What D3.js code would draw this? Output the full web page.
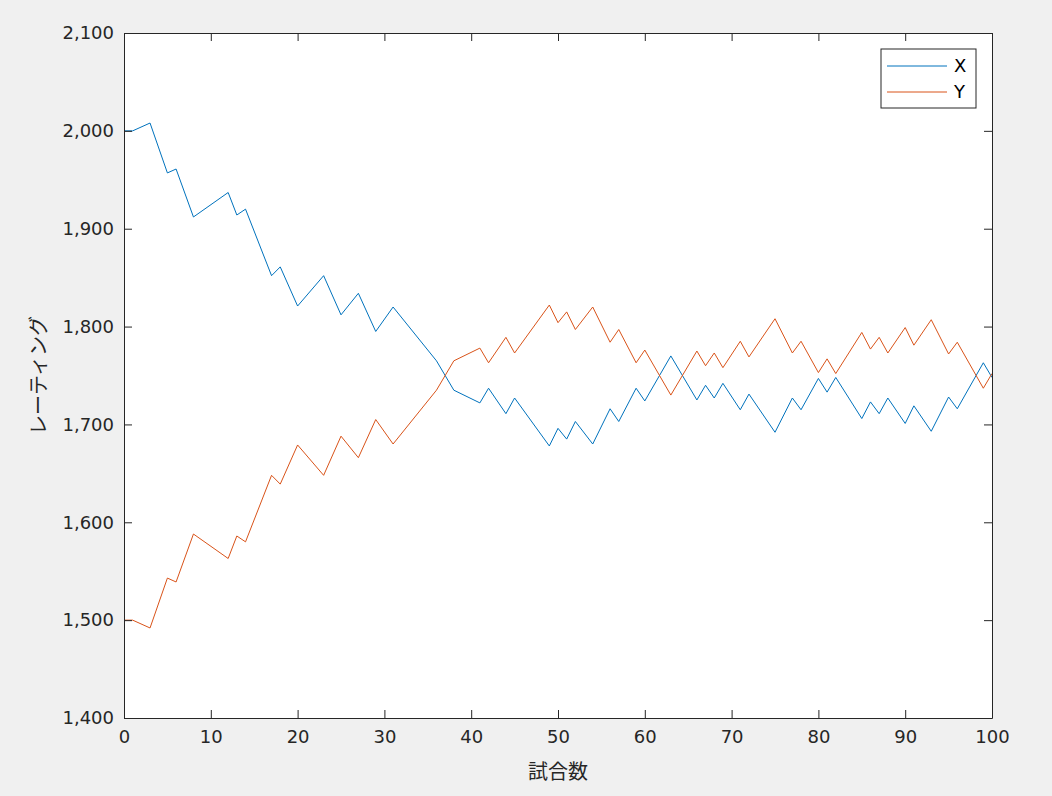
<!DOCTYPE html>
<html><head><meta charset="utf-8">
<script src="https://cdn.jsdelivr.net/npm/d3@7"></script>
<style>body{margin:0;background:#f0f0f0;font-family:"Noto Sans CJK JP","DejaVu Sans",sans-serif;}</style>
</head><body><svg id="c" width="1052" height="796"></svg>
<script>
// turning points of each rating curve (game number, rating)
var games = [0,1,3,5,6,8,12,13,14,17,18,20,23,25,27,29,31,36,38,41,42,44,45,49,50,51,52,54,56,57,59,60,63,66,67,68,69,71,72,75,77,78,80,81,82,85,86,87,88,90,91,93,95,96,99,100];
var ratingX = [2000,2000,2008,1957,1961,1912,1937,1914,1920,1852,1861,1821,1852,1812,1834,1795,1820,1765,1735,1722,1737,1711,1727,1678,1696,1685,1703,1680,1716,1703,1737,1724,1770,1725,1740,1727,1742,1715,1731,1692,1727,1715,1747,1733,1748,1706,1723,1711,1727,1701,1719,1693,1728,1716,1763,1748];
var ratingY = [1500,1500,1492,1543,1539,1588,1563,1586,1580,1648,1639,1679,1648,1688,1666,1705,1680,1735,1765,1778,1763,1789,1773,1822,1804,1815,1797,1820,1784,1797,1763,1776,1730,1775,1760,1773,1758,1785,1769,1808,1773,1785,1753,1767,1752,1794,1777,1789,1773,1799,1781,1807,1772,1784,1737,1752];
var xTicks = [0,10,20,30,40,50,60,70,80,90,100];
var yTicks = [1400,1500,1600,1700,1800,1900,2000,2100];
var seriesNames = ["X","Y"];
var colors = ["#0072BD","#D95319"];

var svg = d3.select("#c");
var L = 124, R = 992, T = 33, B = 718;
var x = d3.scaleLinear().domain([0,100]).range([L,R]);
var y = d3.scaleLinear().domain([1400,2100]).range([B,T]);

svg.append("rect").attr("x",L).attr("y",T).attr("width",R-L).attr("height",B-T).attr("fill","#fff");

var series = [ratingX, ratingY];
var line = d3.line().x(function(d,i){return x(games[i]);}).y(function(d){return y(d);});
series.forEach(function(s,k){
  svg.append("path").attr("d",line(s)).attr("fill","none").attr("stroke",colors[k]).attr("stroke-width",1);
});

function styleAxis(g){
  g.selectAll("path,line").attr("stroke","#262626");
  g.selectAll("text").attr("font-size",18).attr("fill","#262626").attr("font-family","'DejaVu Sans',sans-serif");
}
var xb = svg.append("g").attr("transform","translate(0,"+B+")").call(d3.axisBottom(x).tickValues(xTicks).tickSizeInner(-8).tickSizeOuter(0).tickPadding(12));
styleAxis(xb);
var xt = svg.append("g").attr("transform","translate(0,"+T+")").call(d3.axisTop(x).tickValues(xTicks).tickSizeInner(-8).tickSizeOuter(0).tickFormat(""));
styleAxis(xt);
var yl = svg.append("g").attr("transform","translate("+L+",0)").call(d3.axisLeft(y).tickValues(yTicks).tickSizeInner(-8).tickSizeOuter(0).tickPadding(10));
styleAxis(yl);
var yr = svg.append("g").attr("transform","translate("+R+",0)").call(d3.axisRight(y).tickValues(yTicks).tickSizeInner(-8).tickSizeOuter(0).tickFormat(""));
styleAxis(yr);

svg.append("text").attr("x",(L+R)/2).attr("y",779).attr("text-anchor","middle").attr("font-size",20).attr("fill","#262626").text("試合数");
svg.append("text").attr("transform","translate(46,"+((T+B)/2)+") rotate(-90)").attr("text-anchor","middle").attr("font-size",20).attr("fill","#262626").text("レーティング");

// legend
var lg = svg.append("g").attr("transform","translate(881,49)");
lg.append("rect").attr("width",95).attr("height",59).attr("fill","#fff").attr("stroke","#262626").attr("stroke-width",1);
seriesNames.forEach(function(n,k){
  var yy = 17 + k*26;
  lg.append("line").attr("x1",6).attr("x2",66).attr("y1",yy).attr("y2",yy).attr("stroke",colors[k]);
  lg.append("text").attr("x",73).attr("y",yy+6).attr("font-size",18).attr("fill","#000").attr("font-family","'DejaVu Sans',sans-serif").text(n);
});
</script></body></html>
